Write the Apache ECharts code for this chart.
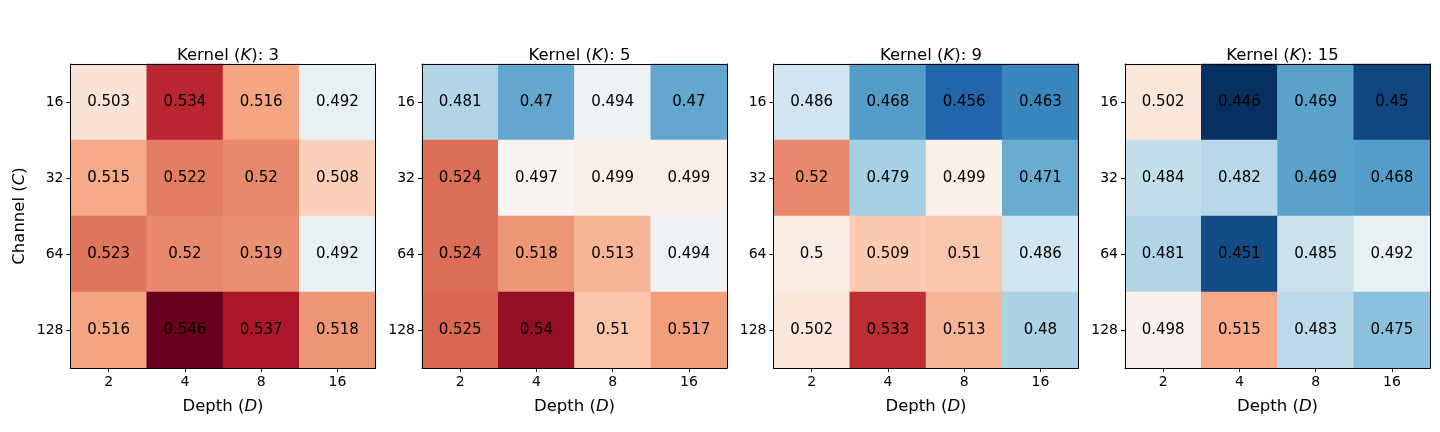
<!DOCTYPE html>
<html lang="en">
<head>
    <meta charset="UTF-8">
    <title>Kernel / Channel / Depth heatmaps</title>
    <script type="text/javascript" src="https://cdn.jsdelivr.net/npm/echarts@6/dist/echarts.min.js"></script>
    <style type="text/css">
        html, body {margin:0;padding:0;background:#fff;}
        #main {width:1440px;height:432px;}
    </style>
</head>
<body>
<div id="main"></div>
<script type="text/javascript">
    // x: depth, y: channel
    var depths = ['2', '4', '8', '16'];
    var channels = ['16', '32', '64', '128'];
    var kernels = [3, 5, 9, 15];

    // rows = channel (16,32,64,128), cols = depth (2,4,8,16)
    var k3 = [
        [0.503, 0.534, 0.516, 0.492],
        [0.515, 0.522, 0.52, 0.508],
        [0.523, 0.52, 0.519, 0.492],
        [0.516, 0.546, 0.537, 0.518]
    ];
    var k5 = [
        [0.481, 0.47, 0.494, 0.47],
        [0.524, 0.497, 0.499, 0.499],
        [0.524, 0.518, 0.513, 0.494],
        [0.525, 0.54, 0.51, 0.517]
    ];
    var k9 = [
        [0.486, 0.468, 0.456, 0.463],
        [0.52, 0.479, 0.499, 0.471],
        [0.5, 0.509, 0.51, 0.486],
        [0.502, 0.533, 0.513, 0.48]
    ];
    var k15 = [
        [0.502, 0.446, 0.469, 0.45],
        [0.484, 0.482, 0.469, 0.468],
        [0.481, 0.451, 0.485, 0.492],
        [0.498, 0.515, 0.483, 0.475]
    ];
    var panels = [k3, k5, k9, k15];

    // matplotlib RdBu_r
    var rdbuR = ['#053061', '#2166ac', '#4393c3', '#92c5de', '#d1e5f0', '#f7f7f7',
                 '#fddbc7', '#f4a582', '#d6604d', '#b2182b', '#67001f'];

    var font = 'DejaVu Sans';
    var lefts = [70.5, 422, 773.5, 1125];
    var gw = 305, gtop = 64, gh = 304;

    // 常规/斜体文字样式
    function richSet(size) {
        return {
            n: {fontFamily: font, fontSize: size, color: '#000'},
            i: {fontFamily: font, fontSize: size, fontStyle: 'italic', color: '#000'}
        };
    }

    var grid = [], xAxis = [], yAxis = [], series = [], title = [];
    for (var p = 0; p < panels.length; p++) {
        grid.push({left: lefts[p], top: gtop, width: gw, height: gh, containLabel: false});
        title.push({
            text: '{n|Kernel (}{i|K}{n|): ' + kernels[p] + '}',
            left: lefts[p] + gw / 2,
            textAlign: 'center',
            top: 42,
            textStyle: {fontFamily: font, fontSize: 16.5, fontWeight: 'normal', color: '#000', rich: richSet(16.5)}
        });
        // bottom x axis
        xAxis.push({
            type: 'category', data: depths, gridIndex: p, position: 'bottom',
            axisLine: {show: true, lineStyle: {color: '#000', width: 1}},
            axisTick: {show: true, alignWithLabel: true, length: 4, lineStyle: {color: '#000'}},
            axisLabel: {
                fontFamily: font, fontSize: 14, color: '#000', margin: 7,
                formatter: function (v) { return '{n|' + v + '}'; },
                rich: richSet(14)
            },
            splitLine: {show: false},
            name: '{n|Depth (}{i|D}{n|)}', nameLocation: 'middle', nameGap: 30,
            nameTextStyle: {fontFamily: font, fontSize: 16.5, color: '#000', rich: richSet(16.5)},
            z: 5
        });
        // top frame
        xAxis.push({
            type: 'category', data: depths, gridIndex: p, position: 'top',
            axisLine: {show: true, lineStyle: {color: '#000', width: 1}},
            axisTick: {show: false}, axisLabel: {show: false}, splitLine: {show: false},
            z: 5
        });
        var yMain = {
            type: 'category', data: channels, gridIndex: p, position: 'left', inverse: true,
            axisLine: {show: true, lineStyle: {color: '#000', width: 1}},
            axisTick: {show: true, alignWithLabel: true, length: 4, lineStyle: {color: '#000'}},
            axisLabel: {
                fontFamily: font, fontSize: 14, color: '#000', margin: 7,
                formatter: function (v) { return '{n|' + v + '}'; },
                rich: richSet(14)
            },
            splitLine: {show: false},
            z: 5
        };
        if (p === 0) {
            yMain.name = '{n|Channel (}{i|C}{n|)}';
            yMain.nameLocation = 'middle';
            yMain.nameGap = 42;
            yMain.nameTextStyle = {fontFamily: font, fontSize: 16.5, color: '#000', rich: richSet(16.5)};
        }
        yAxis.push(yMain);
        // right frame
        yAxis.push({
            type: 'category', data: channels, gridIndex: p, position: 'right', inverse: true,
            axisLine: {show: true, lineStyle: {color: '#000', width: 1}},
            axisTick: {show: false}, axisLabel: {show: false}, splitLine: {show: false},
            z: 5
        });

        var d = [];
        for (var r = 0; r < channels.length; r++) {
            for (var c = 0; c < depths.length; c++) {
                d.push([c, r, panels[p][r][c]]);
            }
        }
        series.push({
            type: 'heatmap',
            xAxisIndex: p * 2,
            yAxisIndex: p * 2,
            data: d,
            itemStyle: {borderWidth: 0},
            label: {
                show: true, fontFamily: font, fontSize: 15, color: '#000',
                formatter: function (prm) { return String(prm.value[2]); }
            },
            emphasis: {disabled: true}
        });
    }

    var myChart = echarts.init(document.getElementById('main'));
    var option = {
        backgroundColor: '#fff',
        animation: false,
        textStyle: {fontFamily: font},
        title: title,
        grid: grid,
        xAxis: xAxis,
        yAxis: yAxis,
        visualMap: {
            show: false,
            type: 'continuous',
            min: 0.446,
            max: 0.546,
            dimension: 2,
            seriesIndex: [0, 1, 2, 3],
            inRange: {color: rdbuR}
        },
        series: series
    };
    myChart.setOption(option);
</script>
</body>
</html>
